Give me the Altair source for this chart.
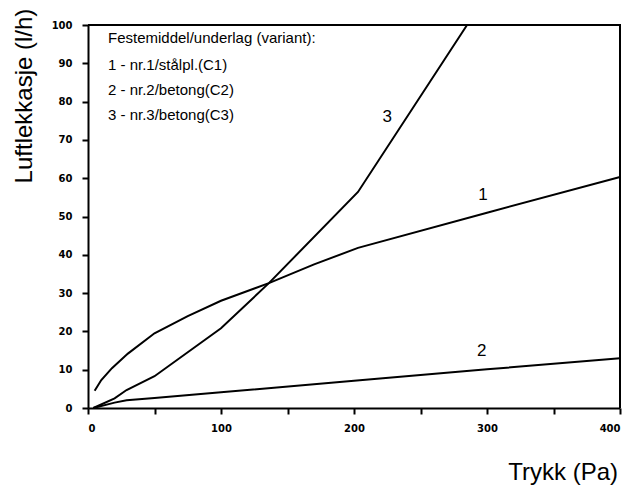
import altair as alt
import pandas as pd

# Curve data (x: Trykk (Pa), y: Luftlekkasje (l/h))
c1_x = [5, 10, 18, 30, 50, 75, 100, 136, 170, 203, 300, 400]
c1_y = [4.5, 7.3, 10.4, 14.2, 19.5, 24.0, 28.0, 32.6, 37.5, 41.8, 51.0, 60.3]

c2_x = [4, 20, 29, 50, 100, 200, 300, 400]
c2_y = [0, 1.4, 2.0, 2.6, 4.1, 7.1, 10.1, 13.0]

c3_x = [4, 20, 29, 50, 100, 136, 203, 285]
c3_y = [0, 2.5, 4.7, 8.3, 20.8, 32.6, 56.4, 100]

curve_ids = ["1", "2", "3"]
label_x = [297, 296, 225]
label_y = [55.6, 15.0, 76.0]

legend_lines = [
    "Festemiddel/underlag (variant):",
    "1 - nr.1/stålpl.(C1)",
    "2 - nr.2/betong(C2)",
    "3 - nr.3/betong(C3)",
]

x_ticks = [0, 50, 100, 150, 200, 250, 300, 350, 400]
y_ticks = [0, 10, 20, 30, 40, 50, 60, 70, 80, 90, 100]
x_min, x_max = 0, 400
y_min, y_max = 0, 100

x_title = "Trykk (Pa)"
y_title = "Luftlekkasje (l/h)"

rows = []
for cid, xs_, ys_ in zip(curve_ids, [c1_x, c2_x, c3_x], [c1_y, c2_y, c3_y]):
    for i, (xv, yv) in enumerate(zip(xs_, ys_)):
        rows.append({"curve": cid, "order": i, "x": xv, "y": yv})
# Frame along the top and right edge of the plot area
for i, (xv, yv) in enumerate(zip([x_min, x_max, x_max], [y_max, y_max, y_min])):
    rows.append({"curve": "frame", "order": i, "x": xv, "y": yv})
df = pd.DataFrame(rows)

lab_df = pd.DataFrame({"curve": curve_ids, "x": label_x, "y": label_y})

W, H = 532, 383

xs = alt.Scale(domain=[x_min, x_max], nice=False)
ys = alt.Scale(domain=[y_min, y_max], nice=False)

x_axis = alt.Axis(
    values=x_ticks,
    labelExpr="datum.value % 100 == 0 ? datum.label : ''",
    title=None, grid=False, domainColor="black", domainWidth=2,
    tickColor="black", tickWidth=2, tickSize=6, labelOverlap=False,
    labelFont="DejaVu Sans", labelFontWeight="bold", labelFontSize=10,
    labelColor="black", labelPadding=9,
)
y_axis = alt.Axis(
    values=y_ticks,
    title=None, grid=False, domainColor="black", domainWidth=2,
    tickColor="black", tickWidth=2, tickSize=6, labelOverlap=False,
    labelFont="DejaVu Sans", labelFontWeight="bold", labelFontSize=10,
    labelColor="black", labelPadding=10,
)

lines = alt.Chart(df).mark_line(color="black", strokeWidth=2).encode(
    x=alt.X("x:Q", scale=xs, axis=x_axis),
    y=alt.Y("y:Q", scale=ys, axis=y_axis),
    detail="curve:N",
    order="order:Q",
)

labels = alt.Chart(lab_df).mark_text(
    font="Liberation Sans", fontSize=17, color="black"
).encode(
    x=alt.X("x:Q", scale=xs, axis=x_axis),
    y=alt.Y("y:Q", scale=ys, axis=y_axis),
    text="curve:N",
)

legend_layers = []
leg_y = [13, 40, 65, 90]
for txt, py in zip(legend_lines, leg_y):
    legend_layers.append(
        alt.Chart(pd.DataFrame({"t": [txt]})).mark_text(
            font="Liberation Sans", fontSize=15, color="black",
            align="left", baseline="middle"
        ).encode(x=alt.value(20), y=alt.value(py), text="t:N")
    )

ytitle = alt.Chart(pd.DataFrame({"t": [y_title]})).mark_text(
    font="Liberation Sans", fontSize=24, color="black", angle=270, baseline="middle"
).encode(x=alt.value(-63), y=alt.value(71), text="t:N")

xtitle = alt.Chart(pd.DataFrame({"t": [x_title]})).mark_text(
    font="Liberation Sans", fontSize=24, color="black", align="right", baseline="middle"
).encode(x=alt.value(530), y=alt.value(H + 65), text="t:N")

chart = alt.layer(lines, labels, *legend_layers, ytitle, xtitle).properties(
    width=W, height=H,
    background="white",
    autosize=alt.AutoSizeParams(type="none"),
    padding={"left": 88, "top": 25, "right": 9, "bottom": 80},
).configure_view(stroke=None)

chart.save("out.html", embed_options={"renderer": "svg", "actions": False})
